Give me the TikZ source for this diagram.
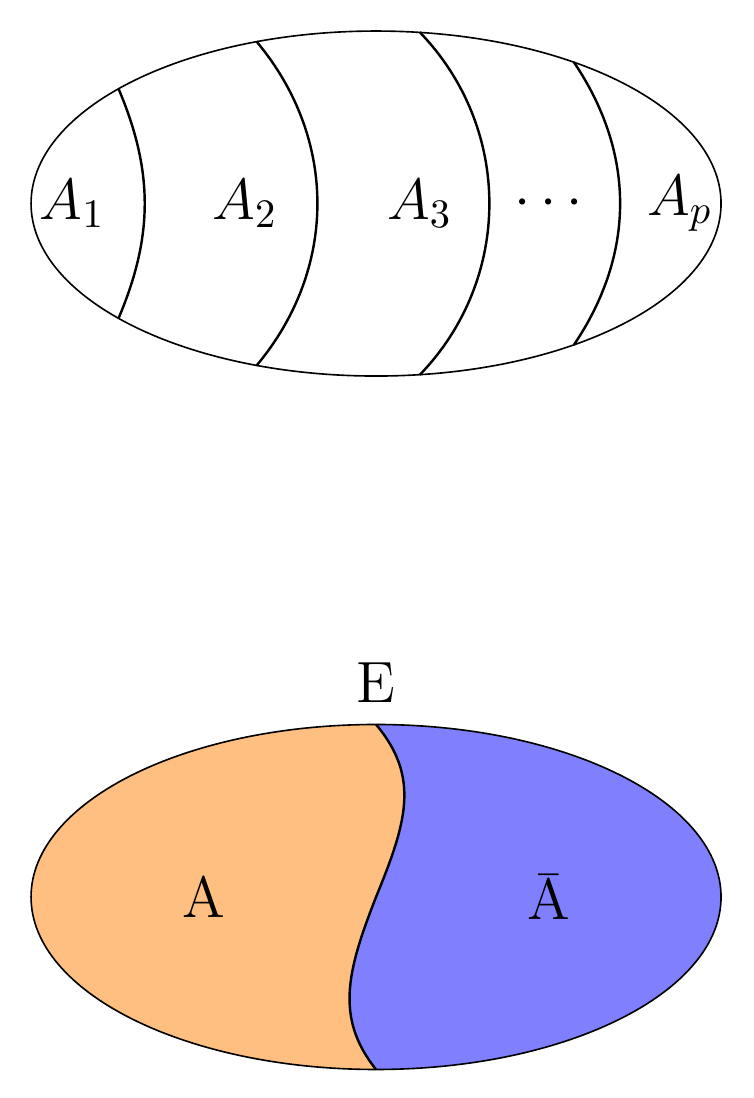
\documentclass[tikz,border=0pt]{standalone}
\begin{document}
\begin{tikzpicture}[divider/.style={semithick}, every node/.style={font=\Large}]
	\useasboundingbox (-3.27,-7.778) rectangle (3.278,1.77);
	\draw (0,0) ellipse (3 and 1.5);
	\coordinate (T1) at (-2.24,1.0);
	\coordinate (B1) at (-2.24,-1.0);
	\coordinate (T2) at (-1.04,1.41);
	\coordinate (B2) at (-1.04,-1.41);
	\coordinate (T3) at (0.38,1.49);
	\coordinate (B3) at (0.38,-1.49);
	\coordinate (T4) at (1.72,1.23);
	\coordinate (B4) at (1.72,-1.23);
	\draw [divider] (T1) to[bend left=23] (B1);
	\draw [divider] (T2) to[bend left=40] (B2);
	\draw [divider] (T3) to[bend left=44] (B3);
	\draw [divider] (T4) to[bend left=34] (B4);
	\node (A1) at (-2.64,0) {$A_1$};
	\node (A2) at (-1.14,0) {$A_2$};
	\node (A3) at (0.38,0) {$A_3$};
	\node (dots) at (1.5,0) {$\cdots$};
	\node (Ap) at (2.64,0) {$A_p$};
	\begin{scope}[yshift=-6.03cm]
		\coordinate (N) at (0,1.5);
		\coordinate (O) at (0,0);
		\coordinate (S) at (0,-1.5);
		\begin{scope}
			\clip (0,0) ellipse (3 and 1.5);
			\fill [blue!50] (-3,-1.5) rectangle (3,1.5);
			\fill [orange!50] (-3,1.5) -- (N) .. controls (0.386,1.04) and (0.265,0.648) .. (O) .. controls (-0.25,-0.64) and (-0.36,-1.05) .. (S) -- (-3,-1.5) -- cycle;
		\end{scope}
		\draw (0,0) ellipse (3 and 1.5);
		\draw [divider] (N) .. controls (0.386,1.04) and (0.265,0.648) .. (O) .. controls (-0.25,-0.64) and (-0.36,-1.05) .. (S);
		\node (E) [above=2pt] at (N) {E};
		\node (A) at (-1.5,0) {A};
		\node (Abar) at (1.5,0) {\=A};
	\end{scope}
\end{tikzpicture}
\end{document}
